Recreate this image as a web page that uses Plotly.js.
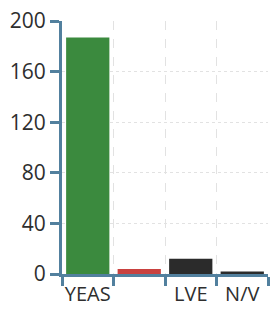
<!DOCTYPE html>
<html>
<head>
<meta charset="utf-8">
<script src="https://cdn.plot.ly/plotly-3.0.1.min.js"></script>
<style>html,body{margin:0;padding:0;background:#fff;}#chart{width:271px;height:310px;}</style>
</head>
<body>
<div id="chart"></div>
<script>
const categories = ["YEAS", "NAYS", "LVE", "N/V"];
const tickLabels = ["YEAS", "", "LVE", "N/V"];
const votes = [187, 4, 12, 2];
const barColors = ["#3b8a3e", "#c9413f", "#2b2b2b", "#2b2b2b"];
const yTicks = [0, 40, 80, 120, 160, 200];

const axisColor = "#52809e";
Plotly.newPlot("chart", [{
  type: "bar",
  x: categories,
  y: votes,
  marker: {color: barColors},
  hoverinfo: "none"
}], {
  width: 271, height: 310,
  margin: {l: 62, r: 3, t: 21, b: 36, pad: 0},
  paper_bgcolor: "#fff", plot_bgcolor: "#fff",
  bargap: 0.16,
  showlegend: false,
  font: {family: "Open Sans, sans-serif", size: 21, color: "#2e2e2e"},
  xaxis: {
    type: "category",
    tickmode: "array", tickvals: categories, ticktext: tickLabels,
    tickson: "boundaries",
    tickangle: 0,
    ticks: "outside", ticklen: 9, tickwidth: 3, tickcolor: axisColor,
    showline: true, linecolor: axisColor, linewidth: 3,
    showgrid: true, gridcolor: "#e2e2e2", gridwidth: 1, griddash: "dash",
    tickfont: {size: 20, color: "#2e2e2e"},
    fixedrange: true
  },
  yaxis: {
    range: [0, 200],
    tickmode: "array", tickvals: yTicks,
    ticks: "outside", ticklen: 9, tickwidth: 3, tickcolor: axisColor,
    showline: true, linecolor: axisColor, linewidth: 3,
    showgrid: true, gridcolor: "#e2e2e2", gridwidth: 1, griddash: "dot",
    zeroline: false,
    tickfont: {size: 21, color: "#2e2e2e"},
    fixedrange: true
  }
}, {displayModeBar: false, staticPlot: true});
</script>
</body>
</html>
